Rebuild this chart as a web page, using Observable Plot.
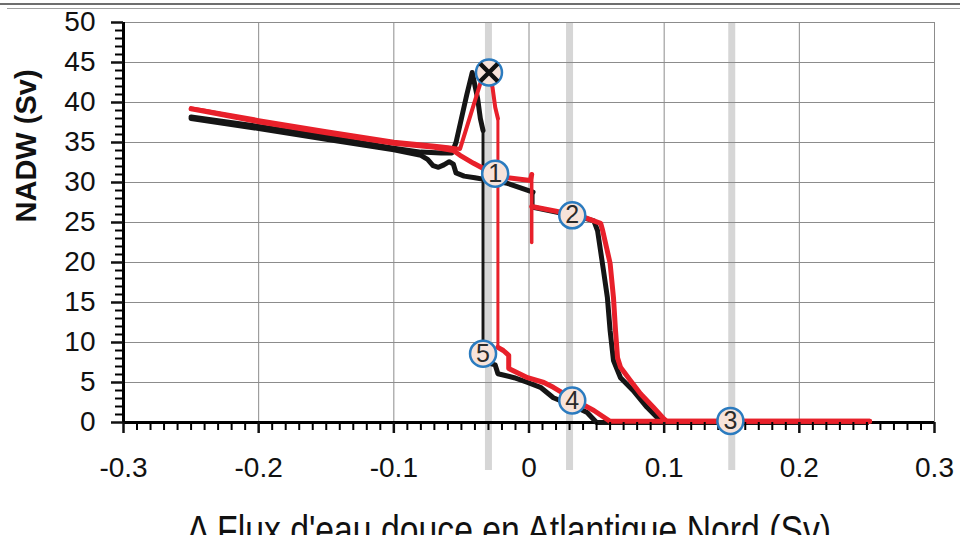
<!DOCTYPE html>
<html><head><meta charset="utf-8">
<script src="https://cdn.jsdelivr.net/npm/d3@7"></script>
<script src="https://cdn.jsdelivr.net/npm/@observablehq/plot@0.6"></script>
<style>
body{margin:0;background:#fff;overflow:hidden}
#wrap{position:relative;width:960px;height:535px;overflow:hidden}
#wrap svg{position:absolute;left:0;top:0}
.b1{position:absolute;left:0;top:3px;width:960px;height:2px;background:#6e6e6e;z-index:2}
.b2{position:absolute;left:7px;top:8px;width:953px;height:1px;background:#a0a0a0;z-index:2}
</style></head><body>
<div id="wrap"><div class="b1"></div><div class="b2"></div></div>
<script>
// ---- tick values ----
const xTicks = [-0.3, -0.2, -0.1, 0, 0.1, 0.2, 0.3];
const yTicks = [0, 5, 10, 15, 20, 25, 30, 35, 40, 45, 50];
const xMinor = d3.range(-30, 31).filter(i => i % 10 !== 0).map(i => i / 100);
const yMinor = d3.range(0, 51).filter(i => i % 5 !== 0);

// ---- grey reference bands (forcing values) ----
const bands = [-0.03, 0.03, 0.15];

// ---- numbered state markers ----
const markerX = [-0.025, 0.032, 0.149, 0.032, -0.034];
const markerY = [31.1, 25.9, 0.2, 2.75, 8.6];
const markerLabel = ["1", "2", "3", "4", "5"];
const peakX = [-0.0296];
const peakY = [43.75];

// ---- black curve (x = Δ flux Sv, y = NADW Sv) ----
const blackUpper = [[-0.25,38.0],[-0.2,36.75],[-0.15,35.4],[-0.1,34.1],[-0.08,33.4],[-0.075,32.9],[-0.071,32.1],[-0.067,31.9],[-0.063,32.2],[-0.059,32.6],[-0.056,32.3],[-0.054,31.2],[-0.048,30.8],[-0.04,30.6],[-0.03,30.3],[-0.016,29.9],[0.003,28.8]];
const blackJump = [[0.003,28.8],[0.003,26.9]];
const blackRight = [[0.003,26.9],[0.02,26.3],[0.04,25.6],[0.048,25.2],[0.0507,24],[0.0529,21.5],[0.0551,19],[0.058,15.6],[0.06,11.5],[0.0625,7.75],[0.0677,5.6],[0.077,4],[0.0873,1.9],[0.095,0.6],[0.0988,0],[0.25,0]];
const blackReturn = [[0.25,0],[0.05,0],[0.043,1.25],[0.035,1.9],[0.023,2.75],[0.018,3.1],[0.0085,4.4],[-0.001,5.0],[-0.011,5.6],[-0.023,6.1],[-0.025,7.2],[-0.034,7.6]];
const blackDrop = [[-0.034,7.6],[-0.034,36.5]];
const blackPeak = [[-0.034,36.5],[-0.036,38],[-0.038,40.5],[-0.042,43.75],[-0.046,41],[-0.05,38],[-0.054,35],[-0.057,33.7],[-0.065,33.7],[-0.08,33.8],[-0.1,34.3],[-0.15,35.7],[-0.2,37],[-0.25,38.2]];

// ---- red curve ----
const redUpper = [[-0.25,39.2],[-0.24,38.9],[-0.2,37.6],[-0.15,36.2],[-0.1,34.9],[-0.07,34.4],[-0.056,34.0],[-0.051,33.4],[-0.041,32.4],[-0.031,31.5],[-0.016,30.6],[0.001,30.25],[0.002,31.0]];
const redJump = [[0.002,31.0],[0.002,22.5]];
const redRight = [[0.002,27.0],[0.02,26.4],[0.04,25.7],[0.053,24.9],[0.0545,24],[0.06,19.9],[0.0625,15.6],[0.064,11.5],[0.0655,8.1],[0.0677,6.9],[0.075,5.25],[0.0825,3.6],[0.092,1.9],[0.0995,0.5],[0.102,0.15],[0.252,0.15]];
const redReturn = [[0.252,0.15],[0.06,0.15],[0.048,1.5],[0.038,2.4],[0.028,3.4],[0.018,4.4],[0.011,5.0],[-0.001,5.6],[-0.015,6.75],[-0.015,8.4],[-0.019,9.0],[-0.023,9.4]];
const redDrop = [[-0.023,9.4],[-0.023,38]];
const redPeak = [[-0.023,38],[-0.025,39.4],[-0.027,41.9],[-0.03,43.5],[-0.036,42.4],[-0.051,34.2],[-0.06,34.4],[-0.07,34.6],[-0.1,35.1],[-0.15,36.4],[-0.2,37.8],[-0.25,39.3]];

const xTitle = "Δ Flux d'eau douce en Atlantique Nord (Sv)";
const yTitle = "NADW (Sv)";

const BLACK = "#151515", RED = "#e8202a";
const lineOpts = (stroke, w) => ({x: d => d[0], y: d => d[1], stroke, strokeWidth: w, strokeLinejoin: "round", strokeLinecap: "round"});

const markers = markerLabel.map((l, i) => ({x: markerX[i], y: markerY[i], l}));
const peaks = peakX.map((x, i) => ({x, y: peakY[i]}));

const plot = Plot.plot({
  width: 960, height: 535,
  marginLeft: 123, marginRight: 26, marginTop: 22, marginBottom: 113,
  x: {domain: [-0.3, 0.3], label: null},
  y: {domain: [0, 50], label: null},
  style: {fontFamily: "'Liberation Sans', Arial, sans-serif", background: "#fff", color: "#111"},
  marks: [
    Plot.ruleX(bands, {stroke: "#d6d6d6", strokeWidth: 7, insetBottom: -48}),
    Plot.gridX(xTicks, {stroke: "#8c8c8c", strokeOpacity: 1, strokeWidth: 1}),
    Plot.gridY(yTicks, {stroke: "#8c8c8c", strokeOpacity: 1, strokeWidth: 1}),
    Plot.ruleY([0], {stroke: "#000", strokeWidth: 3}),
    Plot.ruleX([-0.3], {stroke: "#000", strokeWidth: 3}),
    // black curve
    Plot.line(blackUpper, lineOpts(BLACK, 5)),
    Plot.line(blackJump, lineOpts(BLACK, 3)),
    Plot.line(blackRight, lineOpts(BLACK, 5)),
    Plot.line(blackReturn, lineOpts(BLACK, 5)),
    Plot.line(blackDrop, lineOpts(BLACK, 3)),
    Plot.line(blackPeak, lineOpts(BLACK, 5)),
    // red curve
    Plot.line(redUpper, lineOpts(RED, 5)),
    Plot.line(redJump, lineOpts(RED, 3.5)),
    Plot.line(redRight, lineOpts(RED, 5)),
    Plot.line(redReturn, lineOpts(RED, 5)),
    Plot.line(redDrop, lineOpts(RED, 3)),
    Plot.line(redPeak, lineOpts(RED, 4)),
    // axes
    Plot.axisX(xMinor, {tickSize: 8, strokeWidth: 2, tickFormat: () => "", color: "#000"}),
    Plot.axisX(xTicks, {tickSize: 11, tickPadding: 24, strokeWidth: 2.5, fontSize: 28, color: "#111",
      tickFormat: d => d === 0 ? "0" : d.toFixed(1)}),
    Plot.axisY(yMinor, {tickSize: 8, strokeWidth: 2, tickFormat: () => "", color: "#000"}),
    Plot.axisY(yTicks, {tickSize: 12, tickPadding: 16, strokeWidth: 2.5, fontSize: 28, color: "#111"}),
    // markers
    Plot.dot(markers, {x: "x", y: "y", r: 13, fill: "#f7e3da", stroke: "#2b7bbf", strokeWidth: 2.5}),
    Plot.text(markers, {x: "x", y: "y", text: "l", fontSize: 25, fill: "#2a2a2a"}),
    Plot.dot(peaks, {x: "x", y: "y", r: 13, fill: "#f7e3da", stroke: "#2b7bbf", strokeWidth: 2.5}),
    Plot.dot(peaks, {x: "x", y: "y", symbol: "times", r: 8, stroke: "#111", strokeWidth: 4.5}),
    // titles
    Plot.text([yTitle], {frameAnchor: "left", dx: -97, rotate: -90, fontSize: 29, fontWeight: "bold", fill: "#111"}),
    Plot.text([xTitle], {frameAnchor: "bottom", dx: -20, dy: 93, lineAnchor: "top", fontSize: 40, fill: "#111"})
  ]
});
d3.select(plot).selectAll("text").filter(function(){ return this.textContent === xTitle; })
  .attr("textLength", 644).attr("lengthAdjust", "spacingAndGlyphs");
document.getElementById("wrap").appendChild(plot);
</script>
</body></html>
